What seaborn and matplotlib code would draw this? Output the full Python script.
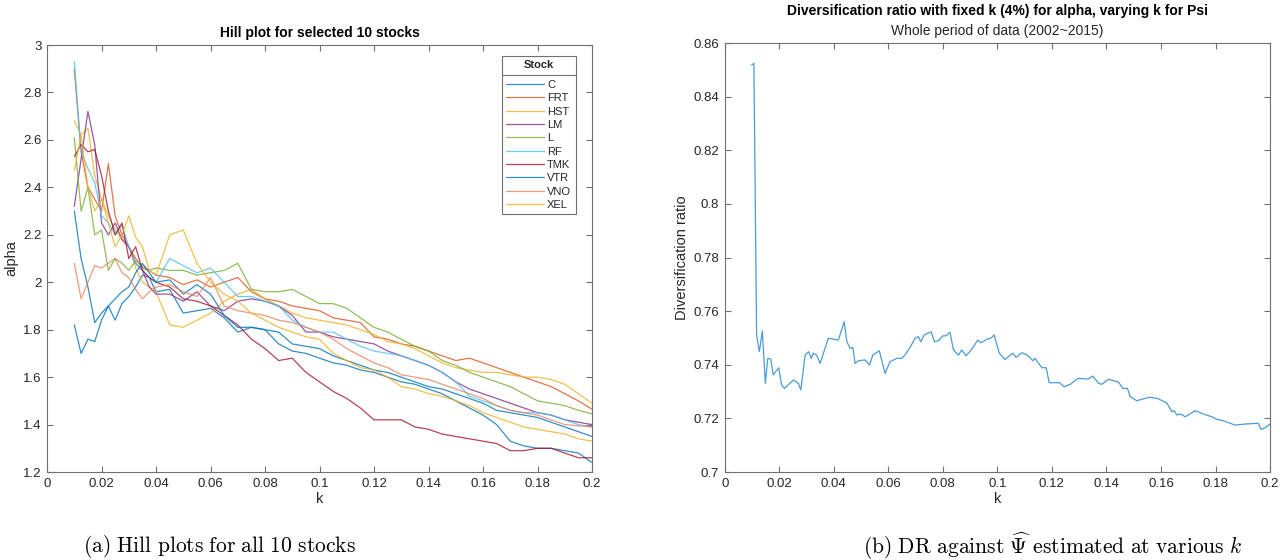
import numpy as np
import pandas as pd
import matplotlib
matplotlib.use("Agg")
import matplotlib.pyplot as plt
import seaborn as sns
from matplotlib.lines import Line2D

# ---------------- data ----------------
k_hill = [0.010, 0.0125, 0.015, 0.0175, 0.020, 0.0225, 0.025, 0.0275, 0.030, 0.0325, 0.035, 0.0375, 0.040,
          0.045, 0.050, 0.055, 0.060, 0.065, 0.070, 0.075, 0.080, 0.085, 0.090, 0.095, 0.100,
          0.105, 0.110, 0.115, 0.120, 0.125, 0.130, 0.135, 0.140, 0.145, 0.150, 0.155, 0.160,
          0.165, 0.170, 0.175, 0.180, 0.185, 0.190, 0.195, 0.200]

stocks = ["C", "FRT", "HST", "LM", "L", "RF", "TMK", "VTR", "VNO", "XEL"]

alpha_C = [1.82, 1.70, 1.76, 1.75, 1.84, 1.90, 1.84, 1.91, 1.94, 1.98, 2.03, 2.02, 1.96,
           1.97, 1.87, 1.88, 1.89, 1.85, 1.79, 1.81, 1.80, 1.74, 1.71, 1.70, 1.68,
           1.66, 1.65, 1.63, 1.62, 1.60, 1.58, 1.57, 1.55, 1.53, 1.50, 1.47, 1.44, 1.40, 1.33, 1.31, 1.30, 1.30, 1.29, 1.28, 1.24]
alpha_FRT = [2.90, 2.55, 2.40, 2.35, 2.30, 2.50, 2.28, 2.20, 2.15, 2.10, 2.06, 2.05, 2.03,
             2.02, 1.99, 2.01, 1.98, 2.00, 2.02, 1.96, 1.93, 1.92, 1.90, 1.89, 1.88,
             1.85, 1.84, 1.83, 1.77, 1.76, 1.74, 1.73, 1.71, 1.69, 1.67, 1.68, 1.66, 1.64, 1.62, 1.60, 1.58, 1.56, 1.53, 1.50, 1.465]
alpha_HST = [2.68, 2.62, 2.65, 2.45, 2.35, 2.28, 2.22, 2.18, 2.15, 2.06, 2.00, 1.98, 1.96,
             1.82, 1.81, 1.84, 1.87, 1.92, 1.95, 1.97, 1.93, 1.90, 1.87, 1.85, 1.84,
             1.83, 1.82, 1.80, 1.78, 1.75, 1.74, 1.72, 1.69, 1.66, 1.64, 1.63, 1.62, 1.62, 1.61, 1.60, 1.60, 1.59, 1.57, 1.53, 1.49]
alpha_LM = [2.32, 2.52, 2.72, 2.58, 2.25, 2.20, 2.25, 2.18, 2.15, 2.08, 2.05, 1.98, 1.95,
            1.95, 1.92, 1.96, 1.90, 1.88, 1.92, 1.93, 1.92, 1.90, 1.86, 1.79, 1.79,
            1.77, 1.76, 1.75, 1.74, 1.71, 1.69, 1.67, 1.65, 1.62, 1.58, 1.55, 1.53, 1.51, 1.49, 1.47, 1.45, 1.44, 1.42, 1.41, 1.40]
alpha_L = [2.61, 2.30, 2.40, 2.20, 2.22, 2.05, 2.10, 2.08, 2.05, 2.09, 2.07, 2.05, 2.06,
           2.05, 2.05, 2.03, 2.04, 2.05, 2.08, 1.97, 1.96, 1.96, 1.97, 1.94, 1.91,
           1.91, 1.89, 1.85, 1.81, 1.79, 1.76, 1.73, 1.71, 1.67, 1.65, 1.62, 1.60, 1.58, 1.56, 1.53, 1.50, 1.49, 1.48, 1.46, 1.445]
alpha_RF = [2.93, 2.55, 2.48, 2.42, 2.28, 2.25, 2.20, 2.24, 2.15, 2.08, 2.05, 2.02, 2.00,
            2.10, 2.07, 2.04, 2.06, 2.00, 1.94, 1.94, 1.92, 1.90, 1.84, 1.81, 1.79,
            1.79, 1.76, 1.73, 1.71, 1.70, 1.69, 1.67, 1.65, 1.62, 1.58, 1.52, 1.50, 1.48, 1.46, 1.45, 1.45, 1.44, 1.42, 1.40, 1.39]
alpha_TMK = [2.53, 2.58, 2.55, 2.56, 2.45, 2.30, 2.20, 2.25, 2.10, 2.15, 2.05, 2.02, 2.00,
             1.98, 1.93, 1.92, 1.90, 1.86, 1.82, 1.76, 1.72, 1.67, 1.68, 1.62, 1.58,
             1.54, 1.51, 1.47, 1.42, 1.42, 1.42, 1.39, 1.38, 1.36, 1.35, 1.34, 1.33, 1.32, 1.29, 1.29, 1.30, 1.30, 1.28, 1.26, 1.26]
alpha_VTR = [2.30, 2.10, 1.98, 1.83, 1.87, 1.90, 1.93, 1.96, 1.98, 2.04, 2.08, 2.04, 2.00,
             2.01, 1.95, 1.99, 1.95, 1.86, 1.81, 1.81, 1.80, 1.79, 1.74, 1.73, 1.72,
             1.69, 1.67, 1.65, 1.63, 1.62, 1.60, 1.58, 1.56, 1.55, 1.53, 1.51, 1.49, 1.46, 1.45, 1.44, 1.43, 1.41, 1.39, 1.37, 1.35]
alpha_VNO = [2.08, 1.93, 2.00, 2.07, 2.06, 2.08, 2.10, 2.04, 2.02, 1.97, 1.93, 1.96, 1.98,
             1.99, 1.96, 1.94, 2.02, 1.90, 1.88, 1.87, 1.86, 1.84, 1.83, 1.81, 1.79,
             1.76, 1.72, 1.69, 1.66, 1.64, 1.61, 1.60, 1.59, 1.57, 1.55, 1.53, 1.51, 1.48, 1.46, 1.45, 1.44, 1.42, 1.40, 1.395, 1.39]
alpha_XEL = [2.47, 2.62, 2.40, 2.30, 2.35, 2.25, 2.15, 2.20, 2.28, 2.19, 2.15, 2.05, 2.03,
             2.20, 2.22, 2.08, 2.00, 1.95, 1.92, 1.87, 1.84, 1.81, 1.79, 1.77, 1.76,
             1.70, 1.67, 1.64, 1.63, 1.60, 1.56, 1.55, 1.53, 1.52, 1.50, 1.48, 1.45, 1.43, 1.41, 1.39, 1.38, 1.37, 1.36, 1.34, 1.33]

k_dr = [0.0099, 0.0107, 0.0117, 0.0127, 0.0138, 0.0149, 0.0158, 0.0169, 0.0178, 0.0198, 0.0209, 0.0219,
        0.0252, 0.0270, 0.0279, 0.0295, 0.0308, 0.0317, 0.0325, 0.0337, 0.0350, 0.0380, 0.0417, 0.0438,
        0.0448, 0.0460, 0.0470, 0.0478, 0.0490, 0.0515, 0.0531, 0.0543, 0.0567, 0.0588, 0.0606, 0.0631,
        0.0649, 0.0661, 0.0680, 0.0698, 0.0710, 0.0719, 0.0731, 0.0757, 0.0769, 0.0784, 0.0800, 0.0812,
        0.0826, 0.0839, 0.0857, 0.0869, 0.0885, 0.0906, 0.0928, 0.0940, 0.0961, 0.0976, 0.0988, 0.1007,
        0.1028, 0.1056, 0.1069, 0.1090, 0.1110, 0.1130, 0.1138, 0.1163, 0.1179, 0.1190, 0.1228, 0.1245,
        0.1269, 0.1294, 0.1334, 0.1350, 0.1371, 0.1383, 0.1407, 0.1444, 0.1460, 0.1477, 0.1487, 0.1511,
        0.1558, 0.1585, 0.1621, 0.1640, 0.1648, 0.1658, 0.1673, 0.1689, 0.1725, 0.1756, 0.1787, 0.1805,
        0.1829, 0.1872, 0.1909, 0.1957, 0.1967, 0.1982, 0.2000]
dr = [0.8518, 0.8524, 0.7511, 0.7449, 0.7526, 0.7331, 0.7424, 0.7421, 0.7362, 0.7389, 0.7324, 0.7312,
      0.7343, 0.7331, 0.7306, 0.7436, 0.7449, 0.7424, 0.7443, 0.7436, 0.7405, 0.7499, 0.7492, 0.7561,
      0.7486, 0.7461, 0.7465, 0.7405, 0.7415, 0.7418, 0.7399, 0.7436, 0.7452, 0.7368, 0.7411, 0.7424,
      0.7424, 0.7436, 0.7465, 0.7499, 0.7505, 0.7486, 0.7511, 0.7523, 0.7486, 0.7490, 0.7508, 0.7508,
      0.7522, 0.7455, 0.7436, 0.7455, 0.7433, 0.7458, 0.7492, 0.7482, 0.7495, 0.7499, 0.7511, 0.7443,
      0.7420, 0.7443, 0.7428, 0.7445, 0.7436, 0.7415, 0.7424, 0.7389, 0.7389, 0.7333, 0.7333, 0.7318,
      0.7328, 0.7349, 0.7347, 0.7358, 0.7331, 0.7327, 0.7346, 0.7335, 0.7312, 0.7312, 0.7281, 0.7266,
      0.7279, 0.7275, 0.7258, 0.7225, 0.7229, 0.7213, 0.7216, 0.7206, 0.7229, 0.7216, 0.7206, 0.7196,
      0.7191, 0.7175, 0.7179, 0.7182, 0.7159, 0.7165, 0.7179]

x_ticks = [0, 0.02, 0.04, 0.06, 0.08, 0.1, 0.12, 0.14, 0.16, 0.18, 0.2]
x_ticklabels = ["0", "0.02", "0.04", "0.06", "0.08", "0.1", "0.12", "0.14", "0.16", "0.18", "0.2"]
y1_ticks = [1.2, 1.4, 1.6, 1.8, 2.0, 2.2, 2.4, 2.6, 2.8, 3.0]
y1_ticklabels = ["1.2", "1.4", "1.6", "1.8", "2", "2.2", "2.4", "2.6", "2.8", "3"]
y2_ticks = [0.70, 0.72, 0.74, 0.76, 0.78, 0.80, 0.82, 0.84, 0.86]
y2_ticklabels = ["0.7", "0.72", "0.74", "0.76", "0.78", "0.8", "0.82", "0.84", "0.86"]

series = [alpha_C, alpha_FRT, alpha_HST, alpha_LM, alpha_L, alpha_RF, alpha_TMK, alpha_VTR, alpha_VNO, alpha_XEL]
df = pd.DataFrame({
    "k": np.tile(k_hill, len(stocks)),
    "alpha": np.concatenate(series),
    "Stock": np.repeat(stocks, len(k_hill)),
})
df_dr = pd.DataFrame({"k": k_dr, "Diversification ratio": dr})

# ---------------- style ----------------
sns.set_theme(style="white")
plt.rcParams["font.family"] = ["Liberation Sans", "DejaVu Sans"]
plt.rcParams["mathtext.fontset"] = "cm"

matlab = ["#0072BD", "#D95319", "#EDB120", "#7E2F8E", "#77AC30", "#4DBEEE", "#A2142F"]
palette = [matlab[i % 7] for i in range(10)]
palette[8] = "#E8825A"
palette[9] = "#EDB120"

AX_COL = "#707070"
TXT_COL = "#262626"

fig = plt.figure(figsize=(12.82, 5.60), dpi=100)
ax1 = fig.add_axes([0.0367, 0.1571, 0.4251, 0.7625])
ax2 = fig.add_axes([0.5653, 0.1571, 0.4254, 0.7661])

sns.lineplot(data=df, x="k", y="alpha", hue="Stock", hue_order=stocks, palette=palette,
             ax=ax1, linewidth=0.9, alpha=0.8, estimator=None, sort=False)
sns.lineplot(data=df_dr, x="k", y="Diversification ratio", ax=ax2, color="#4A9BD8",
             linewidth=0.9, estimator=None, sort=False)

for ax, yt, ytl, ylim in [(ax1, y1_ticks, y1_ticklabels, (1.2, 3.0)),
                          (ax2, y2_ticks, y2_ticklabels, (0.70, 0.86))]:
    ax.set_xlim(0, 0.2)
    ax.set_ylim(*ylim)
    ax.set_xticks(x_ticks)
    ax.set_xticklabels(x_ticklabels)
    ax.set_yticks(yt)
    ax.set_yticklabels(ytl)
    for s in ax.spines.values():
        s.set_visible(True)
        s.set_color(AX_COL)
        s.set_linewidth(0.8)
    ax.tick_params(direction="in", length=4, width=0.8, color=AX_COL, labelsize=9.5,
                   labelcolor=TXT_COL, top=True, right=True, bottom=True, left=True, pad=4)
    ax.set_xlabel("k", fontsize=10.5, color=TXT_COL, labelpad=2)

ax1.set_ylabel("alpha", fontsize=10.5, color=TXT_COL, labelpad=3)
ax2.set_ylabel("Diversification ratio", fontsize=10.5, color=TXT_COL, labelpad=3)
ax1.set_title("Hill plot for selected 10 stocks", fontsize=10, fontweight="bold", color="black", pad=6)
ax2.set_title("Diversification ratio with fixed k (4%) for alpha, varying k for Psi", fontsize=10,
              fontweight="bold", color="black", pad=20)
ax2.text(0.5, 1.012, "Whole period of data (2002~2015)", transform=ax2.transAxes, ha="center",
         va="bottom", fontsize=10, color=TXT_COL)

handles = [Line2D([0], [0], color=palette[i], lw=0.9, alpha=0.8) for i in range(10)]
leg = ax1.legend(handles, stocks, title="Stock", loc="upper right", bbox_to_anchor=(0.98, 0.988),
                 fontsize=8, title_fontproperties={"weight": "bold", "size": 8},
                 frameon=True, fancybox=False, edgecolor=AX_COL, handlelength=3.4,
                 handletextpad=0.3, labelspacing=0.3, borderpad=0.4, framealpha=1)
leg.get_frame().set_linewidth(0.8)
leg._legend_box.sep = 7

fig.canvas.draw()
renderer = fig.canvas.get_renderer()
fb = leg.get_frame().get_window_extent(renderer)
tb = leg.get_title().get_window_extent(renderer)
hb = leg._legend_handle_box.get_window_extent(renderer)
inv = fig.transFigure.inverted()
ysep = 0.5 * (tb.y0 + hb.y1)
(x0, y0), (x1, _) = inv.transform([(fb.x0, ysep), (fb.x1, ysep)])
fig.add_artist(Line2D([x0, x1], [y0, y0], transform=fig.transFigure, color=AX_COL, lw=0.8))

fig.text(0.171, 0.025, r"$\mathrm{(a)\ Hill\ plots\ for\ all\ 10\ stocks}$", ha="center", va="center",
         fontsize=15.5, color="black")
fig.text(0.8215, 0.025, r"$\mathrm{(b)\ DR\ against\ }\widehat{\Psi}\mathrm{\ estimated\ at\ various\ }k$",
         ha="center", va="center", fontsize=15.5, color="black")

fig.savefig("out.png", dpi=100)
